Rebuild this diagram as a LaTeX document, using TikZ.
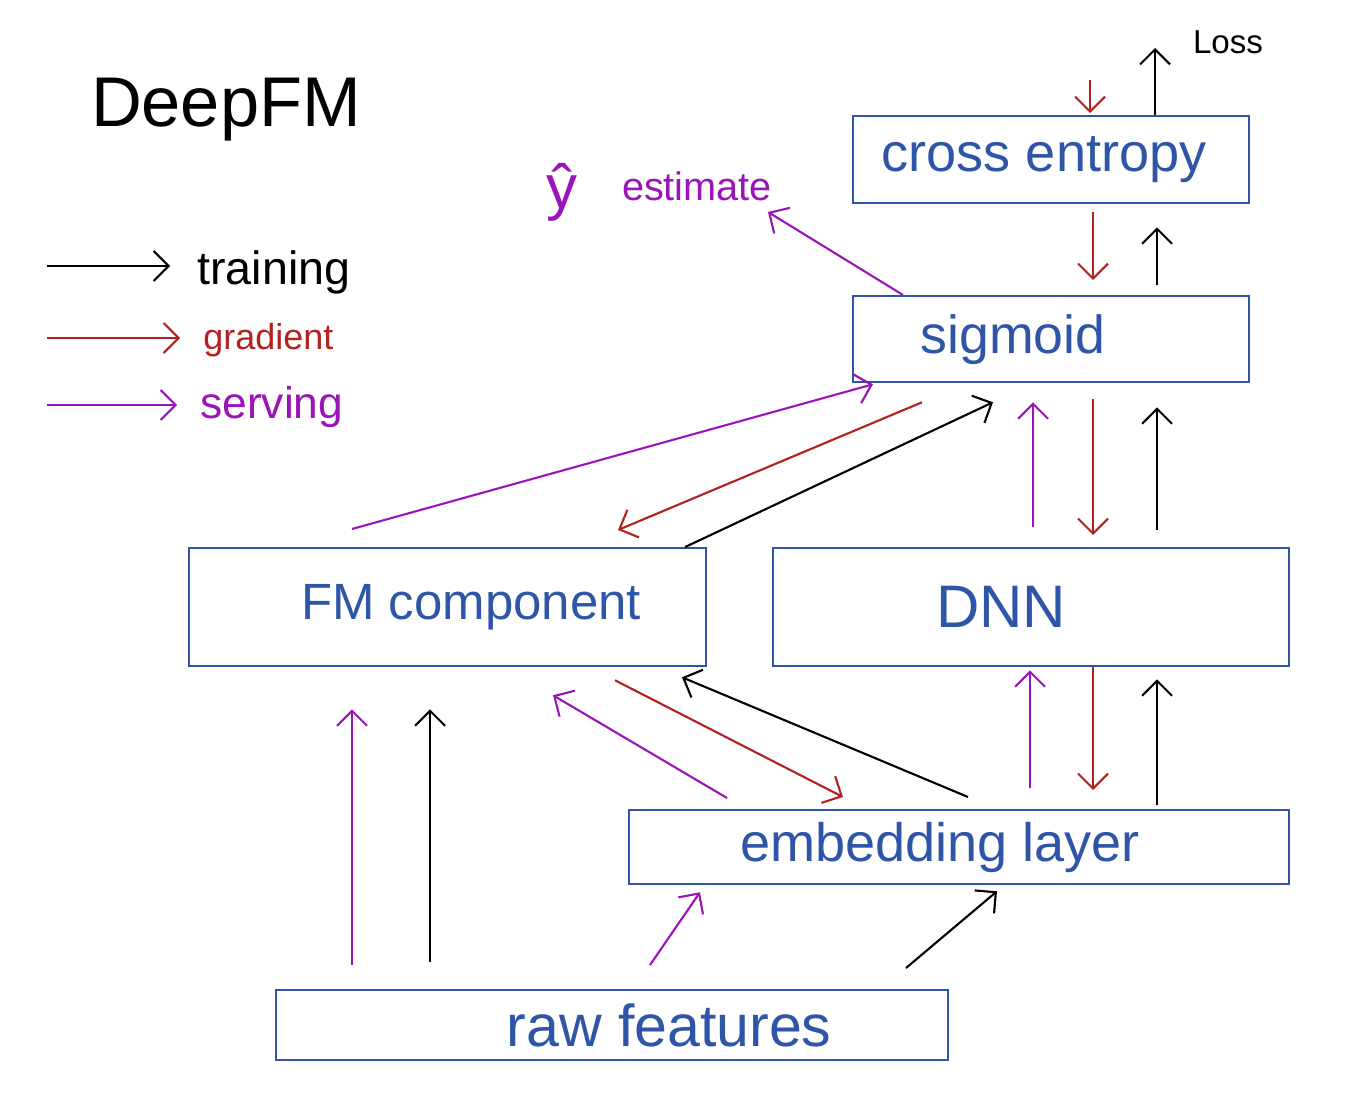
\documentclass[tikz,border=0pt]{standalone}
\usepackage{fontspec}
\setmainfont{Liberation Sans}
\usetikzlibrary{arrows.meta,calc}
\definecolor{bblue}{HTML}{2E55A8}
\definecolor{gred}{HTML}{B2221F}
\definecolor{spurple}{HTML}{9B14BA}
\newcommand{\fitw}[2]{\resizebox{#1}{!}{#2}}
\begin{document}
\begin{tikzpicture}[x=0.02cm,y=-0.02cm,
  box/.style={draw=bblue,line width=1.3pt,inner sep=0pt,text=bblue,anchor=north west},
  lbl/.style={inner sep=0pt},
  arr/.style={line width=1.2pt,-{Straight Barb[length=3mm,width=6mm,line width=1.2pt]}},
  train/.style={arr,black},
  grad/.style={arr,gred},
  serve/.style={arr,spurple}]
\useasboundingbox[fill=white] (0,0) rectangle (1367,1099);

% boxes
\node[box,minimum width=7.92cm,minimum height=1.74cm] (ce) at (852,115)
  {\fitw{6.5cm}{cross entropy}\hspace*{0.28cm}};
\node[box,minimum width=7.92cm,minimum height=1.72cm] (sig) at (852,295)
  {\fitw{3.7cm}{sigmoid}\hspace*{1.52cm}};
\node[box,minimum width=10.34cm,minimum height=2.36cm] (fm) at (188,547)
  {\hspace*{0.94cm}\fitw{6.8cm}{FM component}};
\node[box,minimum width=10.32cm,minimum height=2.36cm] (dnn) at (772,547)
  {\fitw{2.6cm}{DNN}\hspace*{1.2cm}};
\node[box,minimum width=13.2cm,minimum height=1.48cm] (emb) at (628,809)
  {\fitw{8cm}{embedding layer}\hspace*{0.76cm}};
\node[box,minimum width=13.44cm,minimum height=1.4cm] (raw) at (275,989)
  {\hspace*{2.28cm}\fitw{6.5cm}{raw features}};

% texts
\node[lbl] (title) at (226,110) {\fitw{5.4cm}{DeepFM}};
\node[lbl,anchor=west] (ltrain) at (197,272) {\fitw{3.06cm}{training}};
\node[lbl,anchor=west,text=gred] (lgrad) at (203,340) {\fitw{2.6cm}{gradient}};
\node[lbl,anchor=west,text=spurple] (lserve) at (200,407) {\fitw{2.86cm}{serving}};
\node[lbl] (losslbl) at (1228,42) {\fitw{1.4cm}{Loss}};
\node[lbl,text=spurple] (yhat) at (562,192) {\fitw{0.62cm}{ŷ}};
\node[lbl,text=spurple] (estlbl) at (697,186) {\fitw{3.0cm}{estimate}};

% free ends
\coordinate (gin) at (1090,80);
\coordinate (loss) at (1155,48);
\coordinate (est) at (768,212);
\coordinate (ltr0) at (47,266);
\coordinate (lgr0) at (47,338);
\coordinate (lse0) at (47,405);

% legend
\draw[train,shorten >=0.54cm] (ltr0) -- (ltr0 -| ltrain.west);
\draw[grad,shorten >=0.46cm] (lgr0) -- (lgr0 -| lgrad.west);
\draw[serve,shorten >=0.46cm] (lse0) -- (lse0 -| lserve.west);

% cross entropy
\draw[grad] (gin) -- ($(ce.north west)+(238,-2)$);
\draw[train] ($(ce.north west)+(303,0)$) -- (loss);
\draw[grad] ($(ce.south west)+(241,8)$) -- ($(sig.north west)+(241,-15)$);
\draw[train] ($(sig.north west)+(305,-10)$) -- ($(ce.south west)+(305,23)$);
\draw[serve] ($(sig.north west)+(51,0)$) -- (est);

% sigmoid <-> FM / DNN
\draw[serve] ($(fm.north west)+(164,-18)$) -- ($(sig.south west)+(21,1)$);
\draw[grad] ($(sig.south west)+(70,19)$) -- ($(fm.north west)+(430,-17)$);
\draw[train] ($(fm.north east)+(-22,0)$) -- ($(sig.south west)+(141,19)$);
\draw[serve] ($(dnn.north west)+(261,-20)$) -- ($(sig.south west)+(181,19)$);
\draw[grad] ($(sig.south west)+(241,16)$) -- ($(dnn.north west)+(321,-12)$);
\draw[train] ($(dnn.north west)+(385,-17)$) -- ($(sig.south west)+(305,24)$);

% DNN <-> embedding
\draw[serve] ($(emb.north west)+(402,-21)$) -- ($(dnn.south west)+(258,3)$);
\draw[grad] ($(dnn.south west)+(321,0)$) -- ($(emb.north west)+(465,-19)$);
\draw[train] ($(emb.north west)+(529,-4)$) -- ($(dnn.south west)+(385,12)$);

% FM <-> embedding
\draw[serve] ($(emb.north west)+(99,-11)$) -- ($(fm.south west)+(365,28)$);
\draw[grad] ($(fm.south west)+(427,13)$) -- ($(emb.north west)+(215,-12)$);
\draw[train] ($(emb.north west)+(340,-12)$) -- ($(fm.south west)+(494,10)$);

% raw features
\draw[serve] ($(raw.north west)+(77,-24)$) -- ($(fm.south west)+(164,42)$);
\draw[train] ($(raw.north west)+(155,-27)$) -- ($(fm.south west)+(242,42)$);
\draw[serve] ($(raw.north west)+(375,-24)$) -- ($(emb.south west)+(72,7)$);
\draw[train] ($(raw.north west)+(631,-21)$) -- ($(emb.south west)+(369,6)$);
\end{tikzpicture}
\end{document}
